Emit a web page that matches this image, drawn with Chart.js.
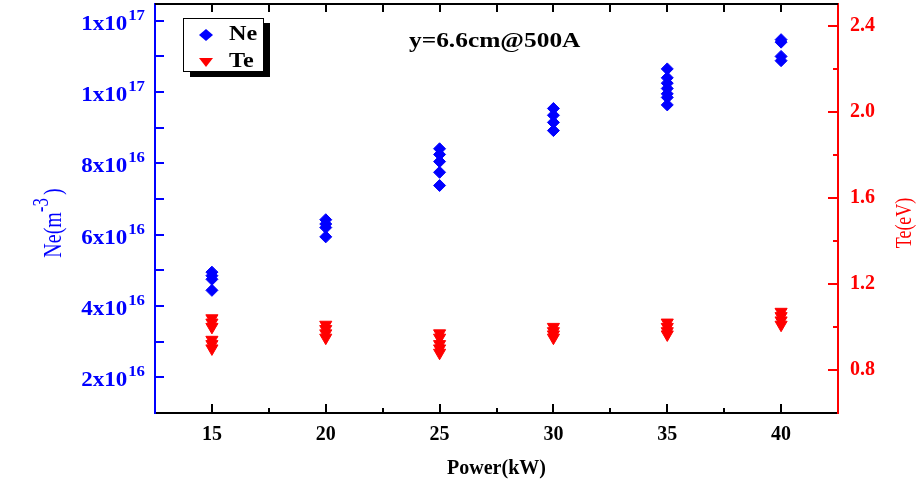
<!DOCTYPE html>
<html>
<head>
<meta charset="utf-8">
<script src="https://cdn.jsdelivr.net/npm/chart.js@4/dist/chart.umd.min.js"></script>
<style>
  html, body { margin: 0; padding: 0; background: #fff; }
  canvas { display: block; }
</style>
</head>
<body>
<canvas id="myChart" width="923" height="483"></canvas>
<script>
// power settings (kW)
const powers = [15, 20, 25, 30, 35, 40];

// electron density at each power, in units of 1e16 m^-3
const neValues = [
  [4.95, 4.85, 4.75, 4.44],
  [6.42, 6.3, 6.2, 5.94],
  [8.41, 8.25, 8.05, 7.75, 7.38],
  [9.54, 9.35, 9.15, 8.92],
  [10.65, 10.4, 10.25, 10.1, 9.95, 9.85, 9.64],
  [11.47, 11.4, 11.0, 10.88]
];

// electron temperature at each power, eV
const teValues = [
  [1.04, 1.02, 1.0, 0.94, 0.92, 0.90],
  [1.01, 0.99, 0.97, 0.95],
  [0.97, 0.95, 0.92, 0.90, 0.88],
  [1.0, 0.98, 0.965, 0.95],
  [1.02, 1.0, 0.98, 0.965],
  [1.07, 1.05, 1.03, 1.01]
];

const xTicks = [15, 20, 25, 30, 35, 40];
const neTicks = [2, 4, 6, 8, 10, 12];
const neTickLabels = [['2x10', '16'], ['4x10', '16'], ['6x10', '16'], ['8x10', '16'], ['1x10', '17'], ['1x10', '17']];
const teTicks = [0.8, 1.2, 1.6, 2.0, 2.4];
const annotationText = 'y=6.6cm@500A';

const SERIF = '"Liberation Serif", "Times New Roman", serif';
const BLUE = '#0000ff';
const RED = '#ff0000';

const nePoints = powers.flatMap((p, i) => neValues[i].map(v => ({x: p, y: v})));
const tePoints = powers.flatMap((p, i) => teValues[i].map(v => ({x: p, y: v})));

function midpoints(arr) {
  let out = [];
  for (let i = 0; i < arr.length - 1; i++) out.push((arr[i] + arr[i + 1]) / 2);
  return out;
}

// text squeezed wider, like the original export
function wideText(ctx, text, x, y, align, sx, rot) {
  ctx.save();
  ctx.translate(x, y);
  ctx.scale(sx, 1);
  if (rot) ctx.rotate(rot);
  ctx.textAlign = align;
  ctx.fillText(text, 0, 0);
  ctx.restore();
}

function line(ctx, x1, y1, x2, y2) {
  ctx.beginPath();
  ctx.moveTo(x1, y1);
  ctx.lineTo(x2, y2);
  ctx.stroke();
}

function noPad(s) {
  s.paddingTop = 0;
  s.paddingBottom = 0;
  s.paddingLeft = 0;
  s.paddingRight = 0;
}

const decorations = {
  id: 'decorations',
  afterDraw(chart) {
    const ctx = chart.ctx;
    const {left, right, top, bottom} = chart.chartArea;
    const xs = chart.scales.x, ys = chart.scales.y, ts = chart.scales.y1;
    ctx.save();
    ctx.lineWidth = 2;

    // top frame + ticks
    ctx.strokeStyle = '#000';
    line(ctx, left, top, right, top);
    xTicks.concat(midpoints(xTicks)).forEach(v => {
      const px = Math.round(xs.getPixelForValue(v));
      line(ctx, px, top, px, top + 8);
    });
    // bottom ticks, inward
    xTicks.forEach(v => {
      const px = Math.round(xs.getPixelForValue(v));
      line(ctx, px, bottom, px, bottom - 9);
    });
    midpoints(xTicks).forEach(v => {
      const px = Math.round(xs.getPixelForValue(v));
      line(ctx, px, bottom, px, bottom - 5);
    });

    // left axis ticks
    ctx.strokeStyle = BLUE;
    neTicks.concat(midpoints(neTicks)).forEach(v => {
      const py = Math.round(ys.getPixelForValue(v));
      line(ctx, left, py, left + 9, py);
    });

    // right axis ticks
    ctx.strokeStyle = RED;
    teTicks.forEach(v => {
      const py = Math.round(ts.getPixelForValue(v));
      line(ctx, right, py, right - 10, py);
    });
    midpoints(teTicks).forEach(v => {
      const py = Math.round(ts.getPixelForValue(v));
      line(ctx, right, py, right - 5, py);
    });

    // left tick labels with exponents
    ctx.fillStyle = BLUE;
    ctx.textBaseline = 'alphabetic';
    neTicks.forEach((v, i) => {
      const py = ys.getPixelForValue(v);
      const [base, exp] = neTickLabels[i];
      ctx.font = 'bold 14px ' + SERIF;
      const ew = ctx.measureText(exp).width * 1.2;
      wideText(ctx, exp, 145, py - 1, 'right', 1.2);
      ctx.font = 'bold 20px ' + SERIF;
      wideText(ctx, base, 145 - ew - 1, py + 9, 'right', 1.15);
    });

    // left axis title Ne(m^-3)
    ctx.save();
    ctx.translate(61, 223);
    ctx.scale(1.3, 1);
    ctx.rotate(-Math.PI / 2);
    ctx.font = '20px ' + SERIF;
    const w1 = ctx.measureText('Ne(m').width;
    ctx.font = '17px ' + SERIF;
    const w2 = ctx.measureText('-3').width;
    ctx.font = '20px ' + SERIF;
    const w3 = ctx.measureText(')').width;
    let sx = -(w1 + w2 + w3 + 3) / 2;
    ctx.textAlign = 'left';
    ctx.fillText('Ne(m', sx, 0);
    ctx.font = '17px ' + SERIF;
    ctx.fillText('-3', sx + w1, -10);
    ctx.font = '20px ' + SERIF;
    ctx.fillText(')', sx + w1 + w2 + 3, 0);
    ctx.restore();

    // right axis title
    ctx.fillStyle = RED;
    ctx.font = '18px ' + SERIF;
    wideText(ctx, 'Te(eV)', 911, 223, 'center', 1.3, -Math.PI / 2);

    // annotation
    ctx.fillStyle = '#000';
    ctx.font = 'bold 20px ' + SERIF;
    wideText(ctx, annotationText, 409, 47, 'left', 1.27);

    // legend box with shadow
    ctx.fillStyle = '#000';
    ctx.fillRect(190, 23, 80, 54);
    ctx.fillStyle = '#fff';
    ctx.fillRect(183, 18, 81, 54);
    ctx.lineWidth = 1;
    ctx.strokeStyle = '#000';
    ctx.strokeRect(183.5, 18.5, 80, 53);

    ctx.fillStyle = BLUE;
    ctx.beginPath();
    ctx.moveTo(199, 35); ctx.lineTo(206, 29); ctx.lineTo(213, 35); ctx.lineTo(206, 41);
    ctx.closePath(); ctx.fill();
    ctx.fillStyle = RED;
    ctx.beginPath();
    ctx.moveTo(199, 58); ctx.lineTo(213, 58); ctx.lineTo(206, 67);
    ctx.closePath(); ctx.fill();

    ctx.fillStyle = '#000';
    ctx.font = 'bold 21px ' + SERIF;
    wideText(ctx, 'Ne', 229, 40, 'left', 1.15);
    wideText(ctx, 'Te', 229, 67, 'left', 1.15);

    ctx.restore();
  }
};

new Chart(document.getElementById('myChart'), {
  type: 'scatter',
  data: {
    datasets: [
      {
        label: 'Ne',
        data: nePoints,
        yAxisID: 'y',
        pointStyle: 'rectRot',
        pointRadius: 6,
        borderWidth: 1,
        backgroundColor: BLUE,
        borderColor: BLUE
      },
      {
        label: 'Te',
        data: tePoints,
        yAxisID: 'y1',
        pointStyle: 'triangle',
        rotation: 180,
        pointRadius: 7,
        borderWidth: 1,
        backgroundColor: RED,
        borderColor: RED
      }
    ]
  },
  options: {
    responsive: false,
    animation: false,
    layout: {autoPadding: false, padding: {top: 4, left: 0, right: 0, bottom: 0}},
    plugins: {
      legend: {display: false},
      tooltip: {enabled: false}
    },
    scales: {
      x: {
        type: 'linear',
        min: 12.5,
        max: 42.5,
        afterBuildTicks: s => { s.ticks = xTicks.map(v => ({value: v})); },
        afterFit: s => { s.height = 70; noPad(s); },
        grid: {display: true, drawOnChartArea: false, drawTicks: false},
        border: {color: '#000', width: 2},
        ticks: {
          color: '#000',
          padding: 10,
          font: {family: SERIF, size: 20, weight: 'bold'}
        },
        title: {
          display: true,
          text: 'Power(kW)',
          color: '#000',
          padding: {top: 0, bottom: 2},
          font: {family: SERIF, size: 20, weight: 'bold'}
        }
      },
      y: {
        position: 'left',
        min: 1,
        max: 12.47,
        afterBuildTicks: s => { s.ticks = neTicks.map(v => ({value: v})); },
        afterFit: s => { s.width = 155; noPad(s); },
        grid: {display: true, drawOnChartArea: false, drawTicks: false},
        border: {color: BLUE, width: 2},
        ticks: {display: false}
      },
      y1: {
        position: 'right',
        min: 0.6,
        max: 2.5,
        afterBuildTicks: s => { s.ticks = teTicks.map(v => ({value: v})); },
        afterFit: s => { s.width = 85; noPad(s); },
        grid: {display: true, drawOnChartArea: false, drawTicks: false},
        border: {color: RED, width: 2},
        ticks: {
          color: RED,
          padding: 12,
          callback: v => v.toFixed(1),
          font: {family: SERIF, size: 20, weight: 'bold'}
        }
      }
    }
  },
  plugins: [decorations]
});
</script>
</body>
</html>
